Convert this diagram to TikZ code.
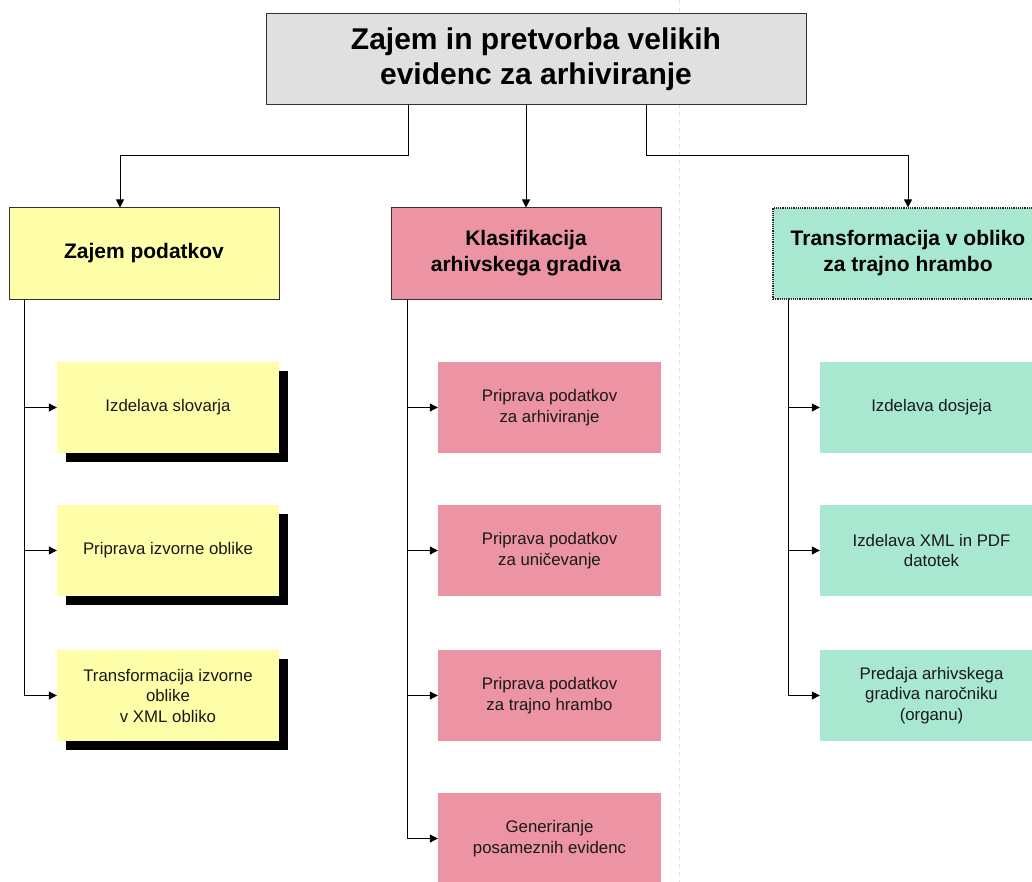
\documentclass[tikz,border=0pt]{standalone}
\usepackage{fontspec}
\setmainfont{Liberation Sans}
\usetikzlibrary{arrows.meta}
\definecolor{ttlgray}{HTML}{E0E0E0}
\definecolor{yel}{HTML}{FFFFAA}
\definecolor{pnk}{HTML}{EC94A4}
\definecolor{grn}{HTML}{A8E8D0}
\definecolor{bord}{HTML}{333333}
\begin{document}
\begin{tikzpicture}[x=1pt,y=-1pt,
  titlebox/.style={draw=bord,line width=1pt,fill=ttlgray,minimum width=540pt,minimum height=91pt,align=center,font=\fontsize{30}{35}\selectfont\bfseries,inner sep=0pt},
  headbox/.style={draw=bord,line width=1pt,minimum width=270pt,minimum height=91pt,align=center,font=\fontsize{21}{26}\selectfont\bfseries,inner sep=0pt},
  childbox/.style={minimum width=223pt,minimum height=91pt,align=center,font=\fontsize{16.8}{20.5}\selectfont,inner sep=0pt,text=black!90},
  shad/.style={fill=black},
  conn/.style={line width=1pt,draw=black},
  arr/.style={conn,-{Triangle[length=8pt,width=8pt]}}
]
\useasboundingbox (0,0) rectangle (1032,882);

% faint page-break line (behind everything)
\draw[black!12,line width=0.8pt,dash pattern=on 4pt off 4pt] (679,0) -- (679,882);

% title
\node[titlebox] (title) at (536,59.5) {Zajem in pretvorba velikih\\evidenc za arhiviranje};

% level 2
\node[headbox,fill=yel] (zp) at (144,253.5) {Zajem podatkov};
\node[headbox,fill=pnk] (kl) at (526,253.5) {Klasifikacija\\arhivskega gradiva};
\node[headbox,fill=grn,draw=black!85,line width=1.2pt,densely dotted] (tr) at (908,253.5) {Transformacija v obliko\\za trajno hrambo};

% yellow children with shadows
\fill[shad] (66,371) rectangle (288,462);
\fill[shad] (66,514) rectangle (288,605);
\fill[shad] (66,659) rectangle (288,750);
\node[childbox,fill=yel,minimum width=222pt] (y1) at (168,407.5) {Izdelava slovarja};
\node[childbox,fill=yel,minimum width=222pt] (y2) at (168,550.5) {Priprava izvorne oblike};
\node[childbox,fill=yel,minimum width=222pt] (y3) at (168,695.5) {Transformacija izvorne\\oblike\\v XML obliko};

% pink children
\node[childbox,fill=pnk] (p1) at (549.5,407.5) {Priprava podatkov\\za arhiviranje};
\node[childbox,fill=pnk] (p2) at (549.5,550.5) {Priprava podatkov\\za uničevanje};
\node[childbox,fill=pnk] (p3) at (549.5,695.5) {Priprava podatkov\\za trajno hrambo};
\node[childbox,fill=pnk] (p4) at (549.5,838.5) {Generiranje\\posameznih evidenc};

% green children
\node[childbox,fill=grn] (g1) at (931.5,407.5) {Izdelava dosjeja};
\node[childbox,fill=grn] (g2) at (931.5,550.5) {Izdelava XML in PDF\\datotek};
\node[childbox,fill=grn] (g3) at (931.5,695.5) {Predaja arhivskega\\gradiva naročniku\\(organu)};

% title to level 2
\draw[arr] ([xshift=-128pt]title.south) -- ++(0,50) -| ([xshift=-24pt]zp.north);
\draw[arr] (title.south -| kl.north) -- (kl.north);
\draw[arr] ([xshift=110pt]title.south) -- ++(0,50) -| (tr.north);

% level 2 to children
\foreach \c in {y1,y2,y3}
  \draw[arr] ([xshift=16pt]zp.south west) |- (\c.west);
\foreach \c in {p1,p2,p3,p4}
  \draw[arr] ([xshift=17pt]kl.south west) |- (\c.west);
\foreach \c in {g1,g2,g3}
  \draw[arr] ([xshift=16pt]tr.south west) |- (\c.west);
\end{tikzpicture}
\end{document}
